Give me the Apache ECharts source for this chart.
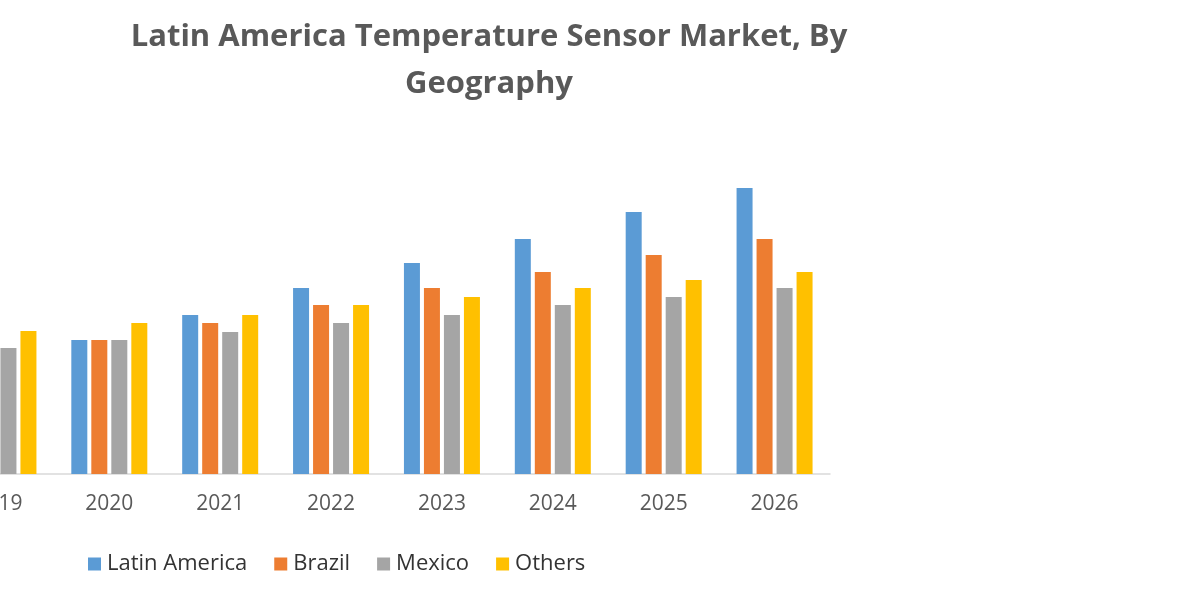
<!DOCTYPE html>
<html>
<head>
<meta charset="utf-8">
<script src="https://cdn.jsdelivr.net/npm/echarts@6/dist/echarts.min.js"></script>
<style>
  html, body { margin: 0; padding: 0; background: #fff; overflow: hidden; }
  /* 原图左侧被裁掉一部分，用负边距模拟 */
  #chart { width: 1257px; height: 600px; margin-left: -57px; }
</style>
</head>
<body>
<div id="chart"></div>
<script>
// 数据
const years = ['2019', '2020', '2021', '2022', '2023', '2024', '2025', '2026'];
const latinAmerica = [120, 134, 159, 186, 211, 235, 262, 286];
const brazil = [124, 134, 151, 169, 186, 202, 219, 235];
const mexico = [126, 134, 142, 151, 159, 169, 177, 186];
const others = [143, 151, 159, 169, 177, 186, 194, 202];

const seriesNames = ['Latin America', 'Brazil', 'Mexico', 'Others'];
const seriesColors = ['#5B9BD5', '#ED7D31', '#A5A5A5', '#FFC000'];
const seriesData = [latinAmerica, brazil, mexico, others];

const chart = echarts.init(document.getElementById('chart'));

const option = {
    backgroundColor: '#fff',
    animation: false,
    title: {
        text: 'Latin America Temperature Sensor Market, By\nGeography',
        left: 541,
        top: 9,
        textAlign: 'center',
        textStyle: {
            color: '#595959',
            fontFamily: 'Open Sans',
            fontWeight: 'bold',
            fontSize: 31,
            lineHeight: 47
        }
    },
    legend: {
        data: seriesNames,
        left: 140,
        top: 548,
        itemWidth: 13,
        itemHeight: 13,
        itemGap: 27,
        icon: 'rect',
        textStyle: {
            color: '#333',
            fontFamily: 'Open Sans',
            fontSize: 22,
            padding: [0, 0, 0, 1]
        }
    },
    grid: {
        left: 0,
        right: 370,
        top: 174,
        bottom: 126
    },
    xAxis: {
        type: 'category',
        data: years,
        axisLine: { lineStyle: { color: '#d9d9d9', width: 1.5 } },
        axisTick: { show: false },
        axisLabel: {
            color: '#595959',
            fontFamily: 'Open Sans',
            fontSize: 21,
            margin: 20
        }
    },
    yAxis: {
        type: 'value',
        min: 0,
        max: 300,
        show: false,
        splitLine: { show: false }
    },
    series: seriesNames.map((name, i) => ({
        name: name,
        type: 'bar',
        data: seriesData[i],
        barWidth: 16,
        barGap: '25%',
        itemStyle: { color: seriesColors[i] }
    }))
};

chart.setOption(option);
</script>
</body>
</html>
